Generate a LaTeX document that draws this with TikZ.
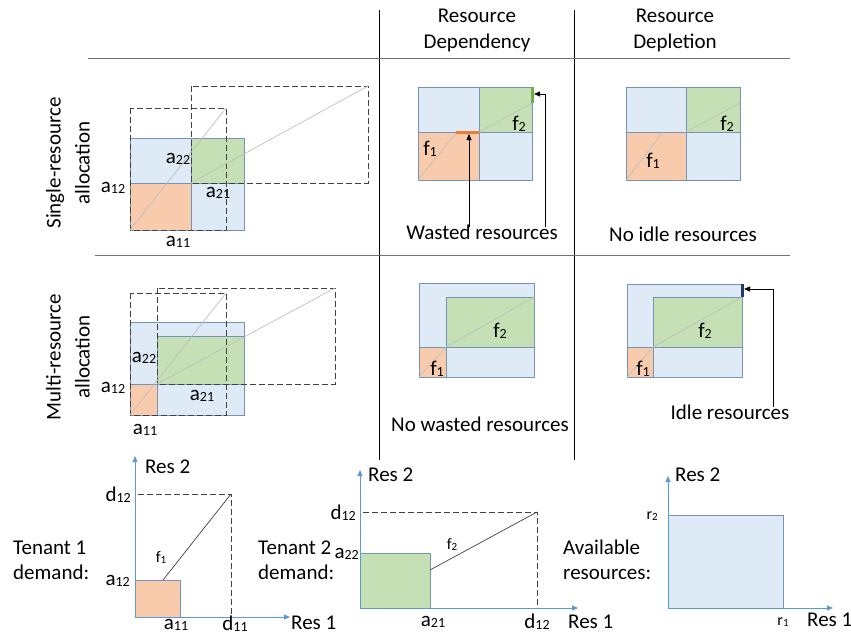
\documentclass[tikz,border=0pt]{standalone}
\usepackage{fontspec}
\setmainfont{Carlito}
\usepackage{xcolor}
\usetikzlibrary{arrows.meta}
\definecolor{resblue}{HTML}{DEEBF7}
\definecolor{resedge}{HTML}{7393B8}
\definecolor{resorange}{HTML}{F8CBAD}
\definecolor{resgreen}{HTML}{C5E0B4}
\definecolor{axisblue}{HTML}{5B9BD5}
\definecolor{wasteorange}{HTML}{ED7D31}
\definecolor{wastegreen}{HTML}{70AD47}
\definecolor{idlenavy}{HTML}{203864}
\def\ix#1#2{#1\lower1pt\hbox{\fontsize{14}{14}\selectfont #2}}
\def\ixs#1#2{#1\lower1pt\hbox{\fontsize{11}{11}\selectfont #2}}
\tikzstyle{blk}=[draw=resedge,line width=0.9pt]
\tikzstyle{free}=[blk,fill=resblue]
\tikzstyle{tone}=[blk,fill=resorange]
\tikzstyle{ttwo}=[blk,fill=resgreen]
\tikzstyle{demand}=[draw=black!75,line width=0.9pt,dash pattern=on 6pt off 3pt]
\tikzstyle{share}=[draw=black!25,line width=0.7pt]
\tikzstyle{want}=[draw=black!75,line width=0.7pt]
\tikzstyle{axis}=[draw=axisblue,line width=0.9pt,-{Triangle[length=6pt,width=5pt]}]
\tikzstyle{callout}=[draw=black,line width=0.8pt,-{Triangle[length=6pt,width=5pt]}]
\tikzstyle{lbl}=[inner sep=0pt,font=\fontsize{21}{25}\selectfont]
\tikzstyle{tick}=[lbl]
\tikzstyle{small}=[inner sep=0pt,font=\fontsize{16}{16}\selectfont]
\tikzstyle{head}=[lbl,align=center,font=\fontsize{21}{26}\selectfont]
\tikzstyle{side}=[lbl,align=left,anchor=west,font=\fontsize{21}{25}\selectfont]
\tikzstyle{row}=[lbl,align=center,rotate=90,font=\fontsize{21}{29}\selectfont]

\begin{document}
\begin{tikzpicture}[x=1pt,y=-1pt]
    \useasboundingbox (0,0) rectangle (851,637);
    \draw[black] (379,10) -- (379,460);
    \draw[black] (574,10) -- (574,460);
    \draw[black!55] (88,58) -- (790,58);
    \draw[black!55] (95,255) -- (790,255);
    \node[head] (hdep) at (477,30) {Resource\\Dependency};
    \node[head] (hdepl) at (675,30) {Resource\\Depletion};
    \node[row] (rsingle) at (68,163) {Single-resource\\allocation};
    \node[row] (rmulti) at (68,357) {Multi-resource\\allocation};

    \filldraw[free] (130,138) rectangle (244,230);
    \filldraw[tone] (130,183) rectangle (191,230);
    \filldraw[ttwo] (191,138) rectangle (244,183);
    \draw[demand] (130,108) rectangle (226,230);
    \draw[demand] (191,86) rectangle (368,183);
    \draw[share] (130,230) -- (226,108);
    \draw[share] (191,183) -- (368,86);
    \node[lbl] (sa22) at (178,159) {\ix{a}{22}};
    \node[lbl] (sa12) at (113,188) {\ix{a}{12}};
    \node[lbl] (sa21) at (218,193) {\ix{a}{21}};
    \node[lbl] (sa11) at (178,242) {\ix{a}{11}};

    \filldraw[free] (418,87) rectangle (532,180);
    \filldraw[tone] (418,132) rectangle (479,180);
    \filldraw[ttwo] (479,87) rectangle (532,132);
    \draw[share] (418,180) -- (457,132);
    \draw[share] (479,132) -- (532,103);
    \draw[wasteorange,line width=3pt] (456,132) -- (479,132);
    \draw[wastegreen,line width=3pt] (532,87) -- (532,103);
    \node[lbl] (df1) at (430,149) {\ix{f}{1}};
    \node[lbl] (df2) at (519,124) {\ix{f}{2}};
    \node[lbl] (wasted) at (482,232) {Wasted resources};
    \coordinate (wastebar) at (469,134);
    \coordinate (wastetop) at (545,94);
    \coordinate (greenbar) at (534,94);
    \draw[callout] ([yshift=-3pt]wasted.north -| wastebar) -- (wastebar);
    \draw[callout] ([yshift=-3pt]wasted.north -| wastetop) -- (wastetop) -- (greenbar);

    \filldraw[free] (626,87) rectangle (740,180);
    \filldraw[tone] (626,132) rectangle (686,180);
    \filldraw[ttwo] (686,87) rectangle (740,132);
    \draw[share] (626,180) -- (663,132);
    \draw[share] (686,132) -- (740,103);
    \node[lbl] (pf1) at (653,161) {\ix{f}{1}};
    \node[lbl] (pf2) at (727,124) {\ix{f}{2}};
    \node[lbl] (noidle) at (683,234) {No idle resources};

    \filldraw[free] (130,322) rectangle (244,415);
    \filldraw[tone] (130,384) rectangle (157,415);
    \filldraw[ttwo] (157,336) rectangle (244,384);
    \draw[demand] (130,293) rectangle (226,415);
    \draw[demand] (157,288) rectangle (335,384);
    \draw[share] (130,415) -- (226,293);
    \draw[share] (157,384) -- (335,288);
    \node[lbl] (ma22) at (144,358) {\ix{a}{22}};
    \node[lbl] (ma12) at (113,388) {\ix{a}{12}};
    \node[lbl] (ma21) at (202,396) {\ix{a}{21}};
    \node[lbl] (ma11) at (145,430) {\ix{a}{11}};

    \filldraw[free] (419,283) rectangle (534,377);
    \filldraw[ttwo] (446,297) rectangle (534,347);
    \filldraw[tone] (419,347) rectangle (446,377);
    \draw[share] (419,377) -- (446,347) -- (534,297);
    \node[lbl] (mf2) at (500,331) {\ix{f}{2}};
    \node[lbl] (mf1) at (437,369) {\ix{f}{1}};
    \node[lbl] (nowaste) at (480,424) {No wasted resources};

    \filldraw[free] (627,284) rectangle (742,377);
    \filldraw[ttwo] (653,297) rectangle (742,347);
    \filldraw[tone] (627,347) rectangle (653,377);
    \draw[share] (627,377) -- (653,347) -- (742,297);
    \draw[idlenavy,line width=3pt] (742,284) -- (742,297);
    \node[lbl] (qf2) at (705,331) {\ix{f}{2}};
    \node[lbl] (qf1) at (643,369) {\ix{f}{1}};
    \node[lbl] (idle) at (730,412) {Idle resources};
    \coordinate (idlebar) at (744,289);
    \coordinate (idletop) at (773,289);
    \draw[callout] ([yshift=-3pt]idle.north -| idletop) -- (idletop) -- (idlebar);

    \coordinate (o1) at (135,617);
    \filldraw[tone] (o1) rectangle (180,580);
    \draw[demand] (o1) rectangle (231,494);
    \draw[want] (163,580) -- (231,494);
    \draw[axis] (o1) -- (135,456);
    \draw[axis] (o1) -- (290,617);
    \node[tick,anchor=west] (t1res2) at (145,467) {Res 2};
    \node[tick,anchor=west] (t1res1) at (291,623) {Res 1};
    \node[tick] (t1a11) at (176,625) {\ix{a}{11}};
    \node[tick] (t1d11) at (235,624) {\ix{d}{11}};
    \node[tick,anchor=east] (t1d12) at (131,495) {\ix{d}{12}};
    \node[tick,anchor=east] (t1a12) at (130,581) {\ix{a}{12}};
    \node[small] (t1f1) at (161,558) {\ixs{f}{1}};
    \node[side] (tenant1) at (13,560) {Tenant 1\\demand:};

    \coordinate (o2) at (360,608);
    \filldraw[ttwo] (o2) rectangle (430,553);
    \draw[demand] (o2) rectangle (537,512);
    \draw[want] (430,570) -- (537,512);
    \draw[axis] (o2) -- (360,470);
    \draw[axis] (o2) -- (578,608);
    \node[tick,anchor=west] (t2res2) at (368,475) {Res 2};
    \node[tick,anchor=west] (t2res1) at (568,622) {Res 1};
    \node[tick,anchor=east] (t2d12) at (356,513) {\ix{d}{12}};
    \node[tick,anchor=east] (t2a22) at (359,554) {\ix{a}{22}};
    \node[tick] (t2a21) at (433,622) {\ix{a}{21}};
    \node[tick] (t2d12b) at (537,622) {\ix{d}{12}};
    \node[small] (t2f2) at (452,545) {\ixs{f}{2}};
    \node[side] (tenant2) at (258,560) {Tenant 2\\demand:};

    \coordinate (o3) at (668,608);
    \filldraw[free] (o3) rectangle (783,515);
    \draw[axis] (o3) -- (668,476);
    \draw[axis] (o3) -- (833,608);
    \node[tick,anchor=west] (avres2) at (675,475) {Res 2};
    \node[tick,anchor=west] (avres1) at (807,620) {Res 1};
    \node[small,anchor=east] (avr2) at (658,516) {\ixs{r}{2}};
    \node[small] (avr1) at (783,622) {\ixs{r}{1}};
    \node[side] (avail) at (563,560) {Available\\resources:};
\end{tikzpicture}
\end{document}
